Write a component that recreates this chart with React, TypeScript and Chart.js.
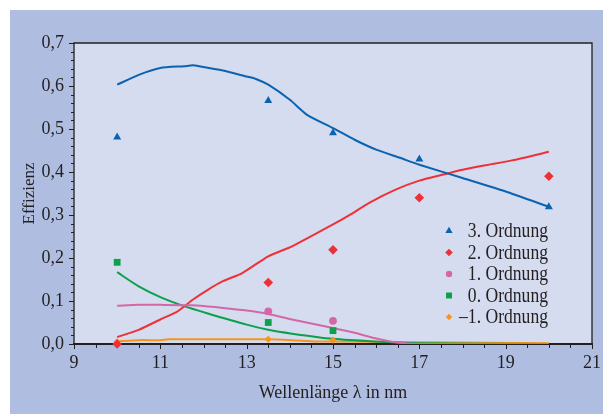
import React, { useEffect, useRef } from 'react';
import { Chart, registerables } from 'chart.js';
import { drawPoint } from 'chart.js/helpers';

Chart.register(...registerables);

const FONT = '"Liberation Serif", "Times New Roman", serif';
const TEXT = '#231f20';

// Axis settings
const X_MIN = 9;
const X_MAX = 21;
const Y_MIN = 0;
const Y_MAX = 0.7;
const xTitle = 'Wellenlänge λ in nm';
const yTitle = 'Effizienz';

// Simulated curves (lines)
const simX3 = [10, 10.5, 11, 11.55, 11.75, 11.9, 12.45, 13.0, 13.2, 13.5, 14.0, 14.4, 15.0, 15.5, 16.0, 16.55, 17.0, 18.0, 19.05, 20.0];
const simY3 = [0.603, 0.626, 0.642, 0.646, 0.648, 0.646, 0.636, 0.622, 0.617, 0.603, 0.568, 0.533, 0.502, 0.475, 0.452, 0.433, 0.417, 0.386, 0.353, 0.319];

const simX2 = [10, 10.5, 11, 11.4, 11.75, 12.1, 12.45, 12.9, 13.5, 14.05, 15.0, 15.4, 15.85, 16.45, 17.0, 17.55, 18.0, 18.5, 19.15, 20.0];
const simY2 = [0.016, 0.033, 0.057, 0.076, 0.103, 0.126, 0.146, 0.165, 0.204, 0.227, 0.278, 0.301, 0.329, 0.359, 0.380, 0.394, 0.405, 0.415, 0.427, 0.447];

const simX1 = [10, 10.5, 11, 11.75, 12.45, 13.0, 13.5, 14.05, 15.0, 15.5, 15.95, 16.45, 17.0, 20.0];
const simY1 = [0.089, 0.091, 0.091, 0.090, 0.084, 0.078, 0.070, 0.057, 0.037, 0.026, 0.014, 0.004, 0.0, 0.0];

const simX0 = [10, 10.5, 11, 11.55, 12.1, 13.0, 13.5, 14.05, 15.0, 15.95, 17.0, 20.0];
const simY0 = [0.167, 0.134, 0.109, 0.088, 0.071, 0.045, 0.033, 0.024, 0.012, 0.006, 0.002, 0.0];

const simXm1 = [10, 10.5, 11, 11.2, 13.5, 14.05, 14.6, 15.0, 17.0, 20.0];
const simYm1 = [0.006, 0.009, 0.009, 0.011, 0.011, 0.009, 0.006, 0.006, 0.004, 0.002];

// Measured points (markers)
const measX3 = [10, 13.5, 15, 17, 20];
const measY3 = [0.481, 0.566, 0.491, 0.430, 0.319];
const measX2 = [10, 13.5, 15, 17, 20];
const measY2 = [0.0, 0.143, 0.219, 0.340, 0.390];
const measX1 = [13.5, 15];
const measY1 = [0.076, 0.054];
const measX0 = [10, 13.5, 15];
const measY0 = [0.190, 0.050, 0.031];
const measXm1 = [10, 13.5, 15];
const measYm1 = [0.005, 0.011, 0.009];

const seriesLabels = ['3. Ordnung', '2. Ordnung', '1. Ordnung', '0. Ordnung', '\u20131. Ordnung'];
const seriesColors = ['#0b63b0', '#ec3237', '#d467a8', '#0aa14b', '#f7941d'];
const seriesStyles = ['triangle', 'rectRot', 'circle', 'rect', 'rectRot'];
const markerRadius = [4.6, 4.8, 3.9, 4.8, 3.6];
const legendRadius = [4.2, 3.8, 3.2, 4.2, 3.2];

const toPts = (xs: number[], ys: number[]) => xs.map((x, i) => ({ x, y: ys[i] }));

const framePlugin = {
  id: 'framePlugin',
  beforeDraw(chart: any) {
    const { ctx, chartArea: a, width, height } = chart;
    ctx.save();
    ctx.fillStyle = '#ffffff';
    ctx.fillRect(0, 0, width, height);
    ctx.fillStyle = '#afbde0';
    ctx.fillRect(10, 10, width - 10, height - 10);
    ctx.fillStyle = '#d5dcef';
    ctx.fillRect(a.left, a.top, a.right - a.left, a.bottom - a.top);
    ctx.restore();
  },
  beforeDatasetsDraw(chart: any) {
    const { ctx, chartArea: a, scales } = chart;
    const xs = scales.x;
    const ys = scales.y;
    ctx.save();
    ctx.strokeStyle = TEXT;
    ctx.lineWidth = 1.3;
    ctx.beginPath();
    ctx.moveTo(a.left, a.bottom);
    ctx.lineTo(a.left, a.top);
    ctx.lineTo(a.right, a.top);
    ctx.lineTo(a.right, a.bottom);
    ctx.stroke();
    // y ticks
    ctx.lineWidth = 1;
    for (let i = 0; i <= 35; i++) {
      const v = i * 0.02;
      const py = Math.round(ys.getPixelForValue(v)) + 0.5;
      const major = i % 5 === 0;
      ctx.beginPath();
      ctx.moveTo(a.left - (major ? 5 : 3), py);
      ctx.lineTo(a.left, py);
      ctx.stroke();
    }
    // x ticks
    for (let i = 0; i <= 24; i++) {
      const v = X_MIN + i * 0.5;
      const px = Math.round(xs.getPixelForValue(v)) + 0.5;
      const major = i % 4 === 0;
      ctx.beginPath();
      ctx.moveTo(px, a.bottom);
      ctx.lineTo(px, a.bottom + (major ? 5 : 4));
      ctx.stroke();
    }
    ctx.lineWidth = 2.2;
    ctx.beginPath();
    ctx.moveTo(a.left - 1, a.bottom);
    ctx.lineTo(a.right + 1, a.bottom);
    ctx.stroke();
    ctx.restore();
  },
  afterDraw(chart: any) {
    const { ctx, chartArea: a } = chart;
    ctx.save();
    const textRight = a.right - 44;
    const markerX = a.right - 143;
    const top = a.top + 188;
    const step = 21.5;
    ctx.font = '20px ' + FONT;
    ctx.textBaseline = 'middle';
    seriesLabels.forEach((lab, i) => {
      const y = top + i * step;
      ctx.fillStyle = seriesColors[i];
      ctx.strokeStyle = seriesColors[i];
      drawPoint(ctx, { pointStyle: seriesStyles[i] as any, radius: legendRadius[i], borderWidth: 0, rotation: 0 }, markerX, y);
      ctx.save();
      ctx.fillStyle = TEXT;
      const w = ctx.measureText(lab).width;
      const sx = 0.88;
      ctx.translate(textRight - w * sx, y + 1);
      ctx.scale(sx, 1);
      ctx.textAlign = 'left';
      ctx.fillText(lab, 0, 0);
      ctx.restore();
    });
    ctx.restore();
  },
};

export default function App() {
  const ref = useRef<HTMLCanvasElement | null>(null);
  useEffect(() => {
    if (!ref.current) return;
    const lineDs = (xs: number[], ys: number[], i: number, order: number) => ({
      type: 'line' as const,
      label: seriesLabels[i] + ' (Simulation)',
      data: toPts(xs, ys),
      borderColor: seriesColors[i],
      backgroundColor: seriesColors[i],
      borderWidth: 2,
      pointRadius: 0,
      tension: 0.2,
      fill: false,
      order,
    });
    const markDs = (xs: number[], ys: number[], i: number) => ({
      type: 'scatter' as const,
      label: seriesLabels[i],
      data: toPts(xs, ys),
      pointStyle: seriesStyles[i],
      pointRadius: markerRadius[i],
      pointBorderWidth: 0,
      borderWidth: 0,
      backgroundColor: seriesColors[i],
      borderColor: seriesColors[i],
      showLine: false,
      clip: false,
      order: 0,
    });
    const chart = new Chart(ref.current, {
      type: 'scatter',
      data: {
        datasets: [
          lineDs(simXm1, simYm1, 4, 6),
          lineDs(simX0, simY0, 3, 5),
          lineDs(simX2, simY2, 1, 4),
          lineDs(simX3, simY3, 0, 3),
          lineDs(simX1, simY1, 2, 2),
          markDs(measX3, measY3, 0),
          markDs(measX2, measY2, 1),
          markDs(measX1, measY1, 2),
          markDs(measX0, measY0, 3),
          markDs(measXm1, measYm1, 4),
        ] as any,
      },
      options: {
        responsive: false,
        animation: false,
        layout: { padding: { left: 0, right: 11, top: 43, bottom: 0 } },
        plugins: {
          legend: { display: false },
          tooltip: { enabled: false },
        },
        scales: {
          x: {
            type: 'linear',
            min: X_MIN,
            max: X_MAX,
            afterFit: (s: any) => { s.height = 70; s.paddingLeft = 0; s.paddingRight = 0; },
            ticks: {
              stepSize: 2,
              padding: 8,
              color: TEXT,
              font: { family: FONT, size: 18 },
              maxRotation: 0,
            },
            grid: { display: false, drawTicks: false },
            border: { display: false },
            title: {
              display: true,
              text: xTitle,
              color: TEXT,
              font: { family: FONT, size: 18 },
              padding: { top: 0, bottom: 10 },
            },
          },
          y: {
            type: 'linear',
            min: Y_MIN,
            max: Y_MAX,
            afterFit: (s: any) => { s.width = 74; s.paddingTop = 0; s.paddingBottom = 0; },
            ticks: {
              stepSize: 0.1,
              padding: 10,
              color: TEXT,
              font: { family: FONT, size: 18 },
              callback: (v: any) => Number(v).toFixed(1).replace('.', ','),
            },
            grid: { display: false, drawTicks: false },
            border: { display: false },
            title: {
              display: true,
              text: yTitle,
              color: TEXT,
              font: { family: FONT, size: 17 },
              padding: { top: 19, bottom: 0 },
            },
          },
        },
      } as any,
      plugins: [framePlugin],
    });
    return () => chart.destroy();
  }, []);
  return (
    <div style={{ position: 'fixed', left: 0, top: 0, width: 603, height: 414 }}>
      <canvas ref={ref} width={603} height={414} style={{ display: 'block', width: 603, height: 414 }} />
    </div>
  );
}
